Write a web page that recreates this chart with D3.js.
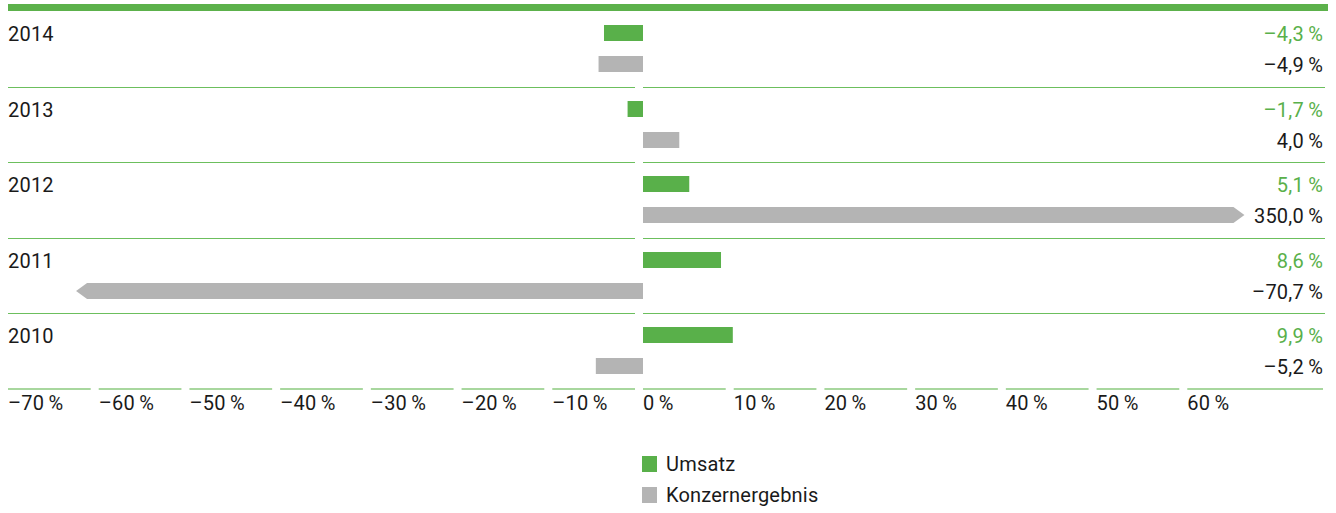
<!DOCTYPE html>
<html>
<head>
<meta charset="utf-8">
<script src="https://cdn.jsdelivr.net/npm/d3@7"></script>
<style>
  body { margin: 0; background: #fff; }
  svg { display: block; font-family: Roboto, "Noto Sans", sans-serif; }
</style>
</head>
<body>
<svg id="chart"></svg>
<script>
// data
var years = ["2014", "2013", "2012", "2011", "2010"];
var umsatz = [-4.3, -1.7, 5.1, 8.6, 9.9];
var konzernergebnis = [-4.9, 4.0, 350.0, -70.7, -5.2];
var seriesNames = ["Umsatz", "Konzernergebnis"];
var tickValues = [-70, -60, -50, -40, -30, -20, -10, 0, 10, 20, 30, 40, 50, 60];

var colors = { Umsatz: "#59b04a", Konzernergebnis: "#b4b4b4" };
var textColor = { Umsatz: "#59b04a", Konzernergebnis: "#1a1a1a" };

// canvas
var width = 1336, height = 513;
var plot = { left: 8, right: 1325, top: 11, bottom: 389 };
var gap = 8;           // gap around zero in separators and tick segments
var barMin = -62.5, barMax = 66.3;  // bars beyond these are cut with an arrow tip
var tip = 11;
var fontSize = 20, spacing = "0.2px";

var svg = d3.select("#chart")
  .attr("width", width)
  .attr("height", height);

var x = d3.scaleLinear().domain([-70, 0]).range([plot.left, 643]);

var y = d3.scaleBand().domain(years).range([plot.top, plot.bottom]);
var ys = d3.scaleBand().domain(seriesNames).range([14, 61]).paddingInner(0.484);

var loc = d3.formatLocale({ decimal: ",", thousands: ".", grouping: [3], currency: ["", "€"], minus: "\u2013" });
var fmtVal = function(v) { return loc.format(".1f")(v) + "\u2009%"; };
var fmtTick = function(v) { return loc.format("d")(v) + "\u2009%"; };

// top rule
svg.append("rect")
  .attr("x", plot.left).attr("y", 4)
  .attr("width", 1328 - plot.left).attr("height", 7)
  .attr("fill", "#5cb14b");

var rows = years.map(function(yr, i) {
  return { year: yr, values: [
    { name: "Umsatz", value: umsatz[i] },
    { name: "Konzernergebnis", value: konzernergebnis[i] }
  ]};
});

// separators under each row (the last one is the axis)
var sepY = years.slice(0, -1).map(function(yr) { return Math.round(y(yr) + y.bandwidth()) + 0.5; });
var sep = svg.append("g").attr("class", "separators");
sep.selectAll(".sl").data(sepY).enter().append("line")
  .attr("x1", plot.left).attr("x2", x(0) - gap)
  .attr("y1", function(d) { return d; }).attr("y2", function(d) { return d; })
  .attr("stroke", "#6cbf5d").attr("stroke-width", 1);
sep.selectAll(".sr").data(sepY).enter().append("line")
  .attr("x1", x(0)).attr("x2", plot.right)
  .attr("y1", function(d) { return d; }).attr("y2", function(d) { return d; })
  .attr("stroke", "#6cbf5d").attr("stroke-width", 1);

var g = svg.selectAll(".row").data(rows).enter().append("g")
  .attr("class", "row")
  .attr("transform", function(d) { return "translate(0," + Math.round(y(d.year)) + ")"; });

g.append("text")
  .attr("x", plot.left).attr("y", 30)
  .attr("font-size", fontSize).attr("letter-spacing", spacing).attr("fill", "#1a1a1a")
  .text(function(d) { return d.year; });

function barPath(d) {
  var y0 = Math.round(ys(d.name)), h = Math.round(ys.bandwidth()), ym = y0 + h / 2;
  var x0 = x(0);
  if (d.value > barMax) {
    var xe = x(barMax);
    return "M" + x0 + "," + y0 + "H" + (xe - tip) + "L" + xe + "," + ym +
      "L" + (xe - tip) + "," + (y0 + h) + "H" + x0 + "Z";
  }
  if (d.value < barMin) {
    var xs = x(barMin);
    return "M" + x0 + "," + y0 + "H" + (xs + tip) + "L" + xs + "," + ym +
      "L" + (xs + tip) + "," + (y0 + h) + "H" + x0 + "Z";
  }
  var x1 = x(d.value);
  return "M" + Math.min(x0, x1) + "," + y0 + "H" + Math.max(x0, x1) +
    "V" + (y0 + h) + "H" + Math.min(x0, x1) + "Z";
}

g.selectAll(".bar").data(function(d) { return d.values; }).enter().append("path")
  .attr("class", "bar")
  .attr("d", barPath)
  .attr("fill", function(d) { return colors[d.name]; });

g.selectAll(".val").data(function(d) { return d.values; }).enter().append("text")
  .attr("class", "val")
  .attr("x", 1323)
  .attr("y", function(d) { return Math.round(ys(d.name)) + 16; })
  .attr("text-anchor", "end")
  .attr("font-size", fontSize).attr("letter-spacing", spacing)
  .attr("fill", function(d) { return textColor[d.name]; })
  .text(function(d) { return fmtVal(d.value); });

// axis: one short segment per tick
var ax = svg.append("g").attr("class", "axis");
ax.selectAll("line").data(tickValues).enter().append("line")
  .attr("x1", function(d) { return x(d); })
  .attr("x2", function(d, i) { return i === tickValues.length - 1 ? plot.right - 2 : x(d + 10) - gap; })
  .attr("y1", plot.bottom).attr("y2", plot.bottom)
  .attr("stroke", "#a8d79e").attr("stroke-width", 2);
ax.selectAll("text").data(tickValues).enter().append("text")
  .attr("x", function(d) { return x(d); })
  .attr("y", 410)
  .attr("font-size", fontSize).attr("letter-spacing", spacing).attr("fill", "#1a1a1a")
  .text(fmtTick);

// legend
var lg = svg.selectAll(".legend").data(seriesNames).enter().append("g")
  .attr("class", "legend")
  .attr("transform", function(d, i) { return "translate(642," + (456 + i * 31) + ")"; });
lg.append("rect").attr("width", 15).attr("height", 16)
  .attr("fill", function(d) { return colors[d]; });
lg.append("text").attr("x", 24).attr("y", 15)
  .attr("font-size", fontSize).attr("letter-spacing", spacing).attr("fill", "#1a1a1a")
  .text(function(d) { return d; });
</script>
</body>
</html>
